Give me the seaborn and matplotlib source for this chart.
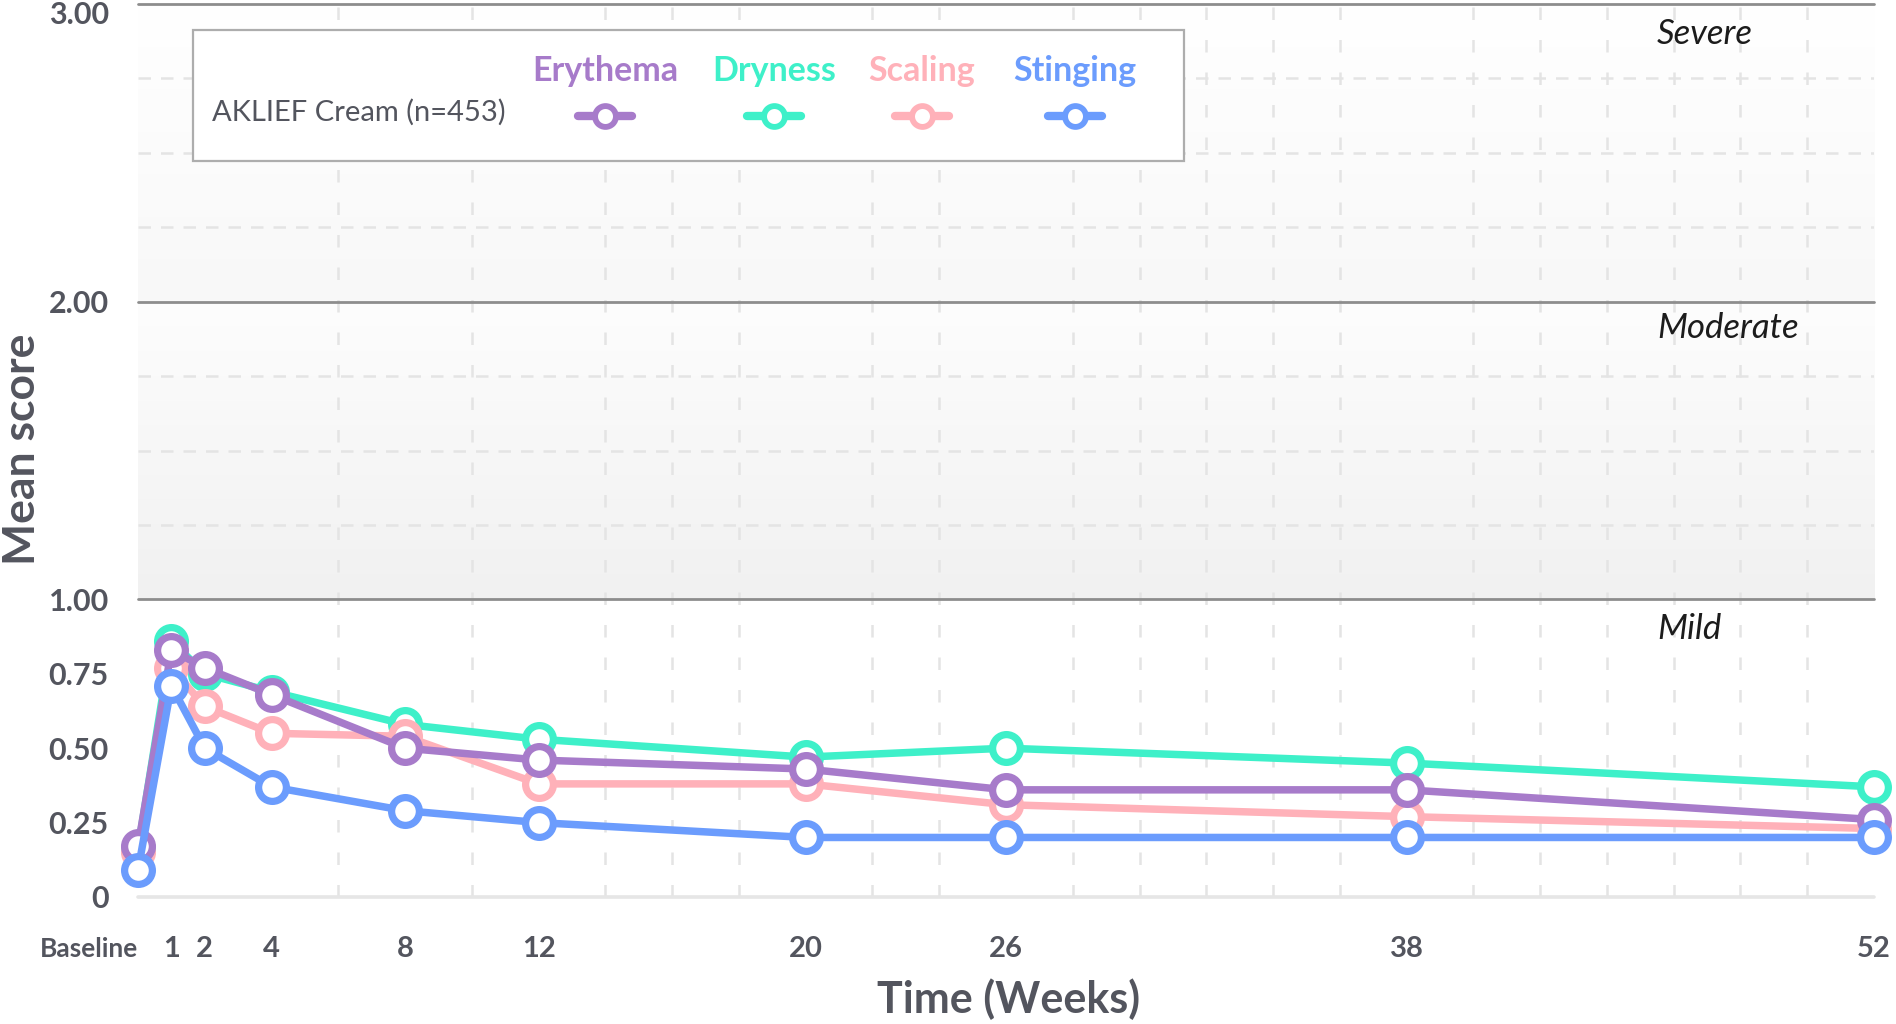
import numpy as np
import pandas as pd
import seaborn as sns
import matplotlib.pyplot as plt
from matplotlib.lines import Line2D
from matplotlib.patches import Rectangle
from matplotlib.ticker import MultipleLocator
from matplotlib.colors import LinearSegmentedColormap
from matplotlib.transforms import ScaledTranslation

# ---------------- data ----------------
weeks = [0, 1, 2, 4, 8, 12, 20, 26, 38, 52]
week_labels = ["Baseline", "1", "2", "4", "8", "12", "20", "26", "38", "52"]
erythema = [0.17, 0.83, 0.77, 0.68, 0.50, 0.46, 0.43, 0.36, 0.36, 0.26]
dryness = [0.16, 0.86, 0.75, 0.69, 0.58, 0.53, 0.47, 0.50, 0.45, 0.37]
scaling = [0.15, 0.77, 0.64, 0.55, 0.54, 0.38, 0.38, 0.31, 0.27, 0.23]
stinging = [0.09, 0.71, 0.50, 0.37, 0.29, 0.25, 0.20, 0.20, 0.20, 0.20]
series_names = ["Erythema", "Dryness", "Scaling", "Stinging"]
y_ticks = [0, 0.25, 0.5, 0.75, 1, 2, 3]
y_tick_labels = ["0", "0.25", "0.50", "0.75", "1.00", "2.00", "3.00"]
bands = ["Mild", "Moderate", "Severe"]
legend_title = "AKLIEF Cream (n=453)"

colors = {"Erythema": "#a77bca", "Dryness": "#3ef0c9", "Scaling": "#ffb1b9", "Stinging": "#6b9cfd"}
values = {"Erythema": erythema, "Dryness": dryness, "Scaling": scaling, "Stinging": stinging}

sns.set_theme(style="white")
plt.rcParams["font.family"] = ["Lato", "DejaVu Sans"]
GREY = "#53555e"

W, H = 1896, 1024
fig = plt.figure(figsize=(W / 100, H / 100), dpi=100)
fig.patch.set_facecolor("white")
ax = fig.add_axes([138 / W, 1 - 897 / H, (1874 - 138) / W, (897 - 4) / H])

# background gradients in upper bands
cm1 = LinearSegmentedColormap.from_list("g1", ["#f1f1f1", "#fdfdfd"])
cm2 = LinearSegmentedColormap.from_list("g2", ["#f8f8f8", "#ffffff"])
grad = np.linspace(0, 1, 256).reshape(-1, 1)
ax.imshow(grad, extent=[0, 52, 1, 2], origin="lower", aspect="auto", cmap=cm1, zorder=0)
ax.imshow(grad, extent=[0, 52, 2, 3], origin="lower", aspect="auto", cmap=cm2, zorder=0)

# grid
ax.set_axisbelow(True)
ax.xaxis.set_minor_locator(MultipleLocator(2))
ax.yaxis.set_minor_locator(MultipleLocator(0.25))
ax.grid(False, which="major")
ax.grid(True, which="minor", axis="x", color="#e4e4e4", lw=1.8, ls=(0, (5, 8)))
ax.grid(True, which="minor", axis="y", color="#e4e4e4", lw=1.8, ls=(0, (5, 4)))
for s in ax.spines.values():
    s.set_visible(False)
for yv in [1, 2, 3]:
    ax.axhline(yv, color="#8d8d8d", lw=2.0, zorder=2, clip_on=False)
ax.axhline(0, color="#e6e6e6", lw=2.6, zorder=2, clip_on=False)

# lines
draw_order = ["Dryness", "Scaling", "Erythema", "Stinging"]
for i, name in enumerate(draw_order):
    df = pd.DataFrame({"Week": weeks, "Score": values[name]})
    sns.lineplot(data=df, x="Week", y="Score", ax=ax, color=colors[name],
                 lw=5.4, marker="o", markersize=20, markerfacecolor="white",
                 markeredgecolor=colors[name], markeredgewidth=5.2,
                 clip_on=False, zorder=5 + i)

ax.set_xlim(0, 52)
ax.set_ylim(0, 3)

# ticks
ax.set_xticks(weeks, week_labels)
ax.set_yticks(y_ticks, y_tick_labels)
ax.tick_params(which="both", length=0)
ax.tick_params(axis="y", pad=21, labelsize=22, labelcolor=GREY)
ax.tick_params(axis="x", pad=43, labelsize=21, labelcolor=GREY)
for lab in ax.get_yticklabels():
    lab.set_fontweight("bold")
ylabs = ax.get_yticklabels()
ylabs[-1].set_transform(ylabs[-1].get_transform() +
                        ScaledTranslation(0, -8 / 100, fig.dpi_scale_trans))
for j, lab in enumerate(ax.get_xticklabels()):
    lab.set_fontweight("bold")
    lab.set_va("baseline")
    if j == 0:
        lab.set_fontsize(19)
        lab.set_ha("right")

ax.set_xlabel("Time (Weeks)", fontsize=31, fontweight="bold", color=GREY)
ax.xaxis.set_label_coords((1009 - 138) / 1736, (897 - 978) / 893)
ax.set_ylabel("Mean score", fontsize=32, fontweight="bold", color=GREY)
ax.yaxis.set_label_coords((42 - 138) / 1736, (897 - 449) / 893)

# band labels
for yv, name in zip([0.9, 1.91, 2.9], bands):
    ax.text(45.5, yv, name, fontsize=25, style="italic", color="#1c1c1c",
            ha="left", va="center", zorder=4)

# legend box
fig.add_artist(Rectangle((193 / W, 1 - 161 / H), (1184 - 193) / W, (161 - 30) / H,
                         transform=fig.transFigure, facecolor="white",
                         edgecolor="#adadad", lw=1.6, zorder=20))
fig.text(212 / W, 1 - 112 / H, legend_title, fontsize=21, color=GREY,
         ha="left", va="center", zorder=21)
leg_x = [605, 774, 922, 1075]
for name, xp in zip(series_names, leg_x):
    c = colors[name]
    fig.text(xp / W, 1 - 71 / H, name, fontsize=24.5, fontweight="bold", color=c,
             ha="center", va="center", zorder=21)
    xs = [(xp - 27) / W, xp / W, (xp + 27) / W]
    ys = [1 - 116 / H] * 3
    fig.add_artist(Line2D(xs, ys, transform=fig.transFigure, color=c, lw=6,
                          marker="o", markevery=[1], markersize=15,
                          markerfacecolor="white", markeredgecolor=c,
                          markeredgewidth=4.2, zorder=22))

fig.savefig("out.png", dpi=100, facecolor="white")
